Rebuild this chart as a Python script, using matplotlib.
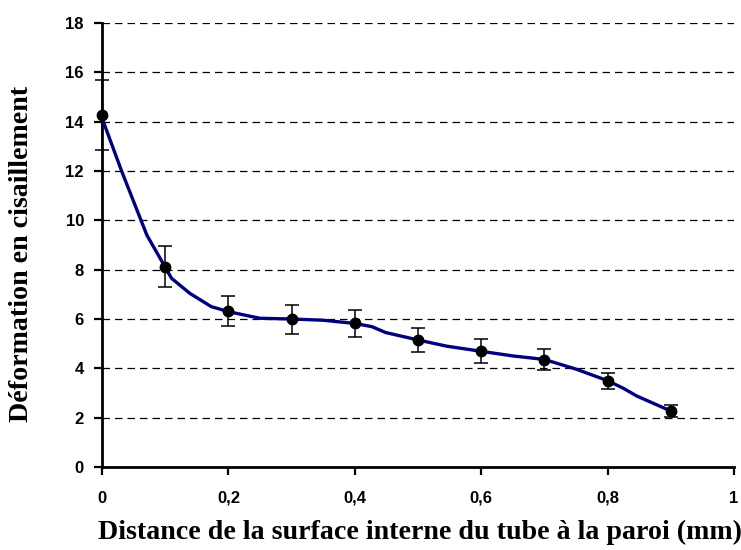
import matplotlib
matplotlib.use("Agg")
import matplotlib.pyplot as plt
from matplotlib.ticker import FuncFormatter

# Measured points with error bars
x_pts = [0.0, 0.1, 0.2, 0.3, 0.4, 0.5, 0.6, 0.7, 0.8, 0.9]
y_pts = [14.27, 8.12, 6.32, 5.99, 5.82, 5.15, 4.69, 4.35, 3.50, 2.27]
y_err = [1.43, 0.82, 0.62, 0.59, 0.56, 0.50, 0.48, 0.42, 0.33, 0.23]

# Smoothed curve
x_curve = [0, 0.031, 0.071, 0.1, 0.11, 0.139, 0.173, 0.2, 0.218, 0.25, 0.3, 0.35,
           0.4, 0.427, 0.449, 0.5, 0.545, 0.6, 0.651, 0.7, 0.751, 0.8, 0.825, 0.846, 0.9]
y_curve = [14.15, 12.0, 9.4, 8.1, 7.65, 7.04, 6.5, 6.3, 6.2, 6.03, 6.0, 5.95,
           5.82, 5.69, 5.45, 5.15, 4.9, 4.69, 4.5, 4.36, 3.96, 3.5, 3.19, 2.88, 2.27]

x_ticks = [0, 0.2, 0.4, 0.6, 0.8, 1.0]
y_ticks = [0, 2, 4, 6, 8, 10, 12, 14, 16, 18]

xlabel = "Distance de la surface interne du tube à la paroi (mm)"
ylabel = "Déformation en cisaillement"

fig = plt.figure(figsize=(7.41, 5.5), dpi=100)
ax = fig.add_axes([102/741, 1-467/550, (734-102)/741, (467-23)/550])

for yv in y_ticks[1:]:
    ax.axhline(yv, color="black", lw=0.9, ls=(0, (6, 4)), zorder=1)

ax.plot(x_curve, y_curve, color="#000080", lw=2.4, zorder=3, clip_on=False)
ax.errorbar(x_pts, y_pts, yerr=y_err, fmt="o", color="black", ms=7.5,
            ecolor="black", elinewidth=1.1, capsize=5, capthick=1.1, zorder=4, clip_on=False)

ax.set_xlim(0, 1)
ax.set_ylim(0, 18)
ax.set_xticks(x_ticks)
ax.set_yticks(y_ticks)

def fmt(v, pos):
    return ("%g" % v).replace(".", ",")

ax.xaxis.set_major_formatter(FuncFormatter(fmt))
ax.yaxis.set_major_formatter(FuncFormatter(fmt))

for s in ["top", "right"]:
    ax.spines[s].set_visible(False)
for s in ["left", "bottom"]:
    ax.spines[s].set_linewidth(2)
    ax.spines[s].set_color("black")

ax.tick_params(axis="both", direction="out", length=6, width=1.6, colors="black")
ax.tick_params(axis="x", pad=11)
ax.tick_params(axis="y", pad=7)
for lab in ax.get_xticklabels() + ax.get_yticklabels():
    lab.set_fontfamily("Liberation Sans")
    lab.set_fontweight("bold")
    lab.set_fontsize(12)

ax.set_xlabel(xlabel, fontfamily="Liberation Serif", fontweight="bold", fontsize=20.2)
ax.set_ylabel(ylabel, fontfamily="Liberation Serif", fontweight="bold", fontsize=20.2)
ax.xaxis.set_label_coords((420 - 102) / 632, -(532 - 467) / 444)
ax.xaxis.label.set_va("center")
ax.yaxis.label.set_va("center")
ax.yaxis.set_label_coords(-(102 - 22) / 632, (467 - 254) / 444)

fig.savefig("out.png", dpi=100)
